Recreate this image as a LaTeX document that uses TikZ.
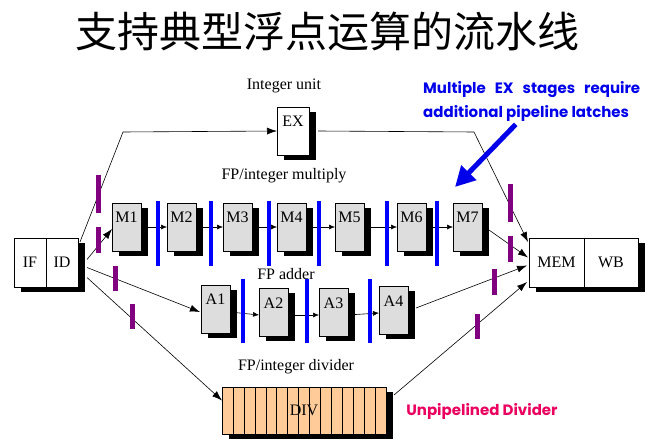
\documentclass[tikz,border=0pt]{standalone}
\usepackage{fontspec}
\setmainfont{Liberation Serif}
\newfontfamily\cjkfont{Noto Sans CJK SC}
\newfontfamily\notefont{Poppins}
\usetikzlibrary{arrows.meta,positioning,shadows,calc}
\definecolor{stagegray}{RGB}{221,221,221}
\definecolor{divfill}{RGB}{255,204,153}
\definecolor{latchpurple}{RGB}{128,0,128}
\definecolor{noteblue}{RGB}{0,0,235}
\definecolor{notepink}{RGB}{235,0,95}
\tikzset{
    every node/.style={font=\fontsize{16}{18}\selectfont},
    box/.style={draw, fill=white, minimum height=49pt, inner sep=0pt, outer sep=0pt,
        drop shadow={shadow xshift=7pt, shadow yshift=-5pt, opacity=1, fill=black}},
    stage/.style={box, fill=stagegray, minimum width=29pt, minimum height=48pt,
        inner ysep=3pt, text height=17pt, text depth=25pt, anchor=north west},
    link/.style={-{Latex[length=6pt,width=5pt]}, line width=.6pt},
    feed/.style={-{Latex[length=10pt,width=7pt]}, line width=.6pt},
    blatch/.style={draw=blue, line width=4pt},
    platch/.style={draw=latchpurple, line width=5pt},
}

\begin{document}
\begin{tikzpicture}[x=1pt, y=-1pt]
    \useasboundingbox[fill=white] (0,0) rectangle (663,443);

    \node[font=\cjkfont\fontsize{42}{44}\selectfont] (title) at (327,32) {支持典型浮点运算的流水线};

    % IF/ID and MEM/WB
    \node[box, minimum width=32pt, anchor=north west] (if) at (14,238) {IF};
    \node[box, minimum width=32pt, right=0pt of if] (id) {ID};
    \node[box, minimum width=55pt, anchor=north west] (mem) at (529,238) {MEM};
    \node[box, minimum width=54pt, right=0pt of mem] (wb) {WB};

    % integer unit
    \node (intlabel) at (284,86) {Integer unit};
    \node[stage, fill=white, minimum width=32pt] (ex) at (277,107) {EX};

    % multiply
    \node (mullabel) at (284,176) {FP/integer multiply};
    \foreach \n/\x in {1/112,2/167,3/223,4/277,5/335,6/397,7/453}
        \node[stage] (m\n) at (\x,203) {M\n};
    \foreach \a/\b in {1/2,2/3,3/4,4/5,5/6,6/7}
        \draw[link] (m\a.east) -- (m\b.west);
    \foreach \x in {158,211,269,319,387,437}
        \draw[blatch] (\x,201) -- (\x,266);

    % adder
    \node (addlabel) at (286,274) {FP adder};
    \foreach \n/\x/\y in {1/201/285,2/259/288,3/319/288,4/379/286}
        \node[stage] (a\n) at (\x,\y) {A\n};
    \foreach \a/\b in {1/2,2/3,3/4}
        \draw[link] ($(a\a.east)+(0,3)$) -- ($(a\b.west)+(0,3)$);
    \foreach \x in {243,307,370}
        \draw[blatch] (\x,279) -- (\x,343);

    % divider
    \node (divlabel) at (296,367) {FP/integer divider};
    \node[box, fill=divfill, minimum width=164pt, minimum height=47pt, anchor=north west] (div) at (222,387) {};
    \foreach \i in {1,...,14}
        \draw ($(div.north west)+(\i*10.93,0)$) -- ($(div.south west)+(\i*10.93,0)$);
    \node (divtext) at (div.center) {DIV};

    % from ID
    \draw[feed] ($(id.north east)+(2,4)$) -- (123,132) -- (ex.west);
    \draw[feed] ($(id.east)+(9,-3)$) -- ($(m1.west)+(0,2)$);
    \draw[feed] ($(id.east)+(9,5)$) -- ($(a1.west)+(-1,3)$);
    \draw[feed] ($(id.east)+(9,15)$) -- ($(div.west)+(0,-10)$);

    % into MEM
    \draw[feed] ($(ex.east)+(9,0)$) -- (474,132) -- ($(mem.north west)+(-1,4)$);
    \draw[feed] ($(m7.east)+(7,3)$) -- ($(mem.west)+(-1,-5)$);
    \draw[feed] ($(a4.east)+(8,-2)$) -- ($(mem.west)+(-2,3)$);
    \draw[feed] ($(div.north east)+(8,8)$) -- ($(mem.south west)+(-2,-5)$);

    % pipeline latches
    \foreach \x/\ya/\yb in {98/175/213,98/227/253,115/266/291,132/304/329,
                            510/184/222,510/236/262,494/269/295,477/314/339}
        \draw[platch] (\x,\ya) -- (\x,\yb);

    % notes
    \node[font=\notefont\bfseries\fontsize{15}{24}\selectfont, text=noteblue, align=left,
        anchor=north west, inner sep=0pt] (note) at (423,81)
        {Multiple\hspace{9pt}EX\hspace{9pt}stages\hspace{9pt}require\\additional pipeline latches};
    \coordinate (pointat) at (455,187);
    \draw[-{Triangle[length=20pt,width=20pt]}, noteblue, line width=5pt] ($(note.south)+(-16,3)$) -- (pointat);
    \node[font=\notefont\bfseries\fontsize{15}{17}\selectfont, text=notepink] (unpiped) at (482,411) {Unpipelined Divider};
\end{tikzpicture}
\end{document}
